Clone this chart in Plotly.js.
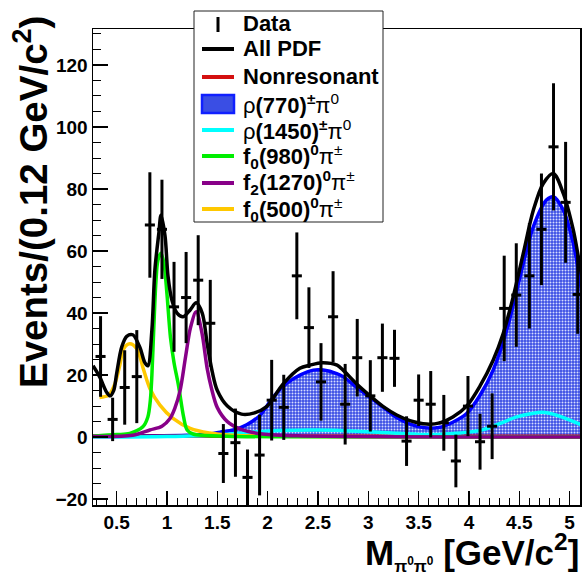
<!DOCTYPE html>
<html><head><meta charset="utf-8">
<script src="https://cdn.plot.ly/plotly-3.0.1.min.js"></script>
<style>html,body{margin:0;padding:0;background:#fff;}#chart{width:582px;height:576px;}</style>
</head><body><div id="chart"></div>
<script>
// ---- data ----
const xData=[0.34,0.46,0.58,0.70,0.83,0.95,1.07,1.19,1.31,1.43,1.56,1.68,1.80,1.92,2.04,2.16,2.29,2.41,2.53,2.65,2.77,2.89,3.02,3.14,3.26,3.38,3.50,3.62,3.75,3.87,3.99,4.11,4.23,4.35,4.47,4.60,4.72,4.84,4.96,5.08];
const yData=[26,5.7,16,19.5,68.4,67,42,45,50.6,36.7,-5.3,-1.8,-13,-5.8,11.9,9.6,52,35.3,17.8,38.8,10.6,25.6,13.3,25.6,25.4,-1.3,11.9,10.6,4.6,-7.7,10,-1.5,3.5,41.5,45.8,52,67,93.6,75.7,46];
const yErr=[13,7,12,15,17,16,14.5,14.7,14.5,14,9.5,11,9,13,13,10.5,14,13,12.5,14.7,13,12.5,11.5,11,9.2,8,8.3,10.7,9,8.5,9.7,9,10.6,17,16.7,17,18,20.5,19.5,12.7];

const totalX=[0.265,0.33,0.40,0.434,0.47,0.50,0.55,0.60,0.66,0.73,0.78,0.81,0.85,0.88,0.92,0.94,0.98,1.01,1.05,1.10,1.16,1.23,1.29,1.35,1.40,1.45,1.50,1.60,1.74,1.87,1.99,2.15,2.32,2.42,2.54,2.69,2.75,2.885,3.017,3.149,3.282,3.414,3.58,3.71,3.84,3.977,4.11,4.24,4.34,4.44,4.54,4.64,4.738,4.838,4.937,5.036,5.086,5.12];
const totalY=[23,19.5,14.5,13.3,15,20.5,29,32.5,33,29,24,23,34.5,54,66,71.5,65,52,44,40,38.8,41,43.3,40,30,21,15,10,7.4,7.8,9.8,17,22.2,23.2,24,23.2,21.6,17.1,13.3,9.8,7.1,5.3,4.2,4.6,6.5,10,16.5,24.8,33.4,45.3,59.3,73.2,81.8,85,78.6,66.8,58.2,52];
const nonresX=[0.265,1.5,3.0,4.5,5.12];
const nonresY=[0.3,0.3,0.3,0.3,0.3];
const rho770X=[0.265,0.8,1.2,1.4,1.527,1.659,1.792,1.924,2.056,2.189,2.321,2.454,2.553,2.686,2.75,2.885,3.017,3.149,3.282,3.414,3.56,3.70,3.84,3.977,4.11,4.24,4.375,4.507,4.639,4.772,4.838,4.937,5.036,5.086,5.12];
const rho770Y=[0.3,0.4,0.6,0.9,1.6,2.3,4,7,13,17.3,20,21.6,21.6,20.5,19.5,16,12.8,9.6,6.3,4.2,3.0,3.1,4.8,7.6,13.5,21.6,34.5,51.7,67.8,76.5,77.5,73.2,62.5,53.9,47];
const rho1450X=[0.265,1.0,1.5,1.8,2.1,2.5,2.9,3.3,3.6,3.81,4.0,4.142,4.309,4.474,4.639,4.72,4.80,4.904,5.07,5.12];
const rho1450Y=[0,0.2,0.7,1.5,2.1,2.3,1.9,1.2,0.8,1.1,1.6,2.4,4.4,6.5,7.7,8.0,7.7,6.7,4.6,3.9];
const f0980X=[0.265,0.50,0.63,0.76,0.81,0.835,0.85,0.87,0.89,0.91,0.94,0.97,1.00,1.035,1.07,1.115,1.165,1.20,1.26,1.6,2.2,5.12];
const f0980Y=[0.3,0.8,1.2,3.3,6.5,12,20,36,50,57,59.3,56,46,32,24,16.5,6.5,2.3,1.0,0.3,0.1,0];
const f21270X=[0.265,0.66,0.83,0.95,1.03,1.08,1.13,1.185,1.235,1.29,1.345,1.40,1.44,1.50,1.60,1.75,1.95,2.3,5.12];
const f21270Y=[0.2,0.6,2.3,3.5,6,9.5,15,26,35.5,40.4,34,22,16,9.5,5,2.3,1.0,0.4,0];
const f0500X=[0.33,0.42,0.48,0.53,0.57,0.63,0.70,0.765,0.83,0.93,1.06,1.23,1.42,1.65,2.0,5.12];
const f0500Y=[12.8,13.5,17,23,28.5,30.1,28.5,22,15.7,10.3,6,2.8,1.3,0.6,0.3,0];

const xTickVals=[0.5,1,1.5,2,2.5,3,3.5,4,4.5,5];
const xTickText=['0.5','1','1.5','2','2.5','3','3.5','4','4.5','5'];
const yTickVals=[-20,0,20,40,60,80,100,120];
const yTickText=['\u221220','0','20','40','60','80','100','120'];

const legendLabels=['<b>Data</b>','<b>All PDF</b>','<b>Nonresonant</b>',
 'ρ<b>(770)<sup>±</sup></b>π<sup>0</sup>','ρ<b>(1450)<sup>±</sup></b>π<sup>0</sup>',
 '<b>f<sub>0</sub>(980)<sup>0</sup></b>π<sup>±</sup>','<b>f<sub>2</sub>(1270)<sup>0</sup></b>π<sup>±</sup>',
 '<b>f<sub>0</sub>(500)<sup>0</sup></b>π<sup>±</sup>'];

// ---- layout geometry ----
const L=93,R=580,T=29,B=505;
const px=x=>(x-L)/(R-L);
const py=y=>(B-y)/(B-T);
const FONT='Liberation Sans, Arial, Helvetica, sans-serif';
const C={black:'#000000',red:'#d41010',blue:'#0000ff',cyan:'#00ffff',green:'#00ee00',purple:'#880088',yellow:'#ffc800'};
const LW=3.5;

function curve(x,y,color){return {x:x,y:y,mode:'lines',type:'scatter',line:{color:color,width:LW,shape:'spline',smoothing:0.9},hoverinfo:'skip'};}

const traces=[
 {x:rho770X,y:rho770Y,type:'scatter',mode:'lines',fill:'tozeroy',
  fillcolor:'#3a4ee4',
  fillpattern:{shape:'.',bgcolor:'#3a4ee4',fgcolor:'#d8ddff',size:3,solidity:0.35},
  line:{color:C.blue,width:LW,shape:'spline',smoothing:0.9},hoverinfo:'skip'},
 curve(nonresX,nonresY,C.red),
 curve(rho1450X,rho1450Y,C.cyan),
 curve(f0500X,f0500Y,C.yellow),
 curve(f0980X,f0980Y,C.green),
 curve(f21270X,f21270Y,C.purple),
 curve(totalX,totalY,C.black),
 {x:xData,y:yData,type:'scatter',mode:'markers',marker:{size:2,color:'black'},
  error_y:{type:'data',array:yErr,visible:true,thickness:3,width:0,color:'black'},
  error_x:{type:'constant',value:0.05,visible:true,thickness:3,width:0,color:'black'}}
];

// ---- manual legend ----
const rowY=[23,49,77,104,130,156,183,209];
const shapes=[
 {type:'rect',xref:'paper',yref:'paper',x0:px(194),x1:px(383),y0:py(222),y1:py(11),fillcolor:'white',line:{color:'#222',width:1},layer:'above'},
 {type:'line',xref:'paper',yref:'paper',x0:px(218),x1:px(218),y0:py(17),y1:py(32),line:{color:'black',width:3},layer:'above'},
 {type:'rect',xref:'paper',yref:'paper',x0:px(202),x1:px(234),y0:py(113),y1:py(95),fillcolor:'#3a4ee4',line:{color:'#1020ff',width:2.5},layer:'above'}
];
const lineRows=[[1,C.black],[2,C.red],[4,C.cyan],[5,C.green],[6,C.purple],[7,C.yellow]];
lineRows.forEach(([i,c])=>shapes.push({type:'line',xref:'paper',yref:'paper',x0:px(202),x1:px(234),y0:py(rowY[i]),y1:py(rowY[i]),line:{color:c,width:4},layer:'above'}));

const annotations=legendLabels.map((t,i)=>({xref:'paper',yref:'paper',x:px(241),y:py(rowY[i]),xanchor:'left',yanchor:'middle',showarrow:false,text:t,font:{family:FONT,size:22,color:'black'}}));
annotations.push({xref:'paper',yref:'paper',x:px(31),y:py(14),xanchor:'center',yanchor:'top',textangle:-90,showarrow:false,
 text:'<b>Events/(0.12 GeV/c<sup>2</sup>)</b>',font:{family:FONT,size:38.5,color:'black'}});
annotations.push({xref:'paper',yref:'paper',x:px(581),y:py(578),xanchor:'right',yanchor:'bottom',showarrow:false,
 text:'<b>M<sub><span style="font-size:17px">π<sup>0</sup>π<sup>0</sup></span></sub> [GeV/c<sup>2</sup>]</b>',font:{family:FONT,size:35,color:'black'}});

const tickFont={family:FONT,size:19,color:'black',weight:'bold'};
const layout={
 width:582,height:576,margin:{l:L,r:582-R,t:T,b:576-B},
 paper_bgcolor:'white',plot_bgcolor:'white',showlegend:false,
 xaxis:{range:[0.265,5.103],showline:true,linecolor:'black',linewidth:1.5,mirror:true,
  ticks:'inside',ticklen:14,tickwidth:1.5,tickcolor:'black',tickmode:'array',tickvals:xTickVals,ticktext:xTickText,
  tickfont:tickFont,showgrid:false,zeroline:false,
  minor:{ticks:'inside',ticklen:7,tickwidth:1,tickcolor:'black',tickmode:'linear',tick0:0,dtick:0.1,showgrid:false}},
 yaxis:{range:[-21.9,131.6],showline:true,linecolor:'black',linewidth:1.5,mirror:true,
  ticks:'inside',ticklen:15,tickwidth:1.5,tickcolor:'black',tickmode:'array',tickvals:yTickVals,ticktext:yTickText,
  tickfont:tickFont,showgrid:false,zeroline:false,
  minor:{ticks:'inside',ticklen:8,tickwidth:1,tickcolor:'black',tickmode:'linear',tick0:0,dtick:5,showgrid:false}},
 shapes:shapes,annotations:annotations
};
Plotly.newPlot('chart',traces,layout,{staticPlot:true,displayModeBar:false});
</script></body></html>
